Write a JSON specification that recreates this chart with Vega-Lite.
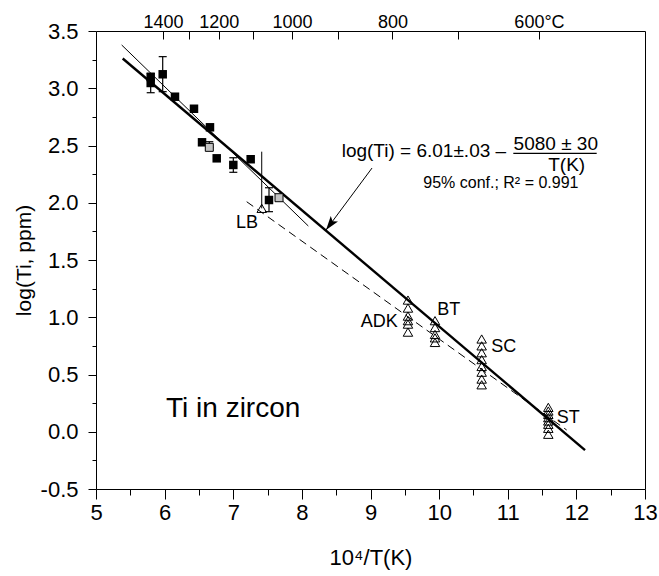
{
  "$schema": "https://vega.github.io/schema/vega-lite/v6.json",
  "width": 549,
  "height": 458,
  "autosize": {"type": "none"},
  "padding": {"left": 96, "top": 31, "right": 14, "bottom": 87},
  "background": "white",
  "config": {
    "view": {"stroke": "black", "strokeWidth": 1},
    "font": "Liberation Sans",
    "axis": {
      "labelFont": "Liberation Sans",
      "titleFont": "Liberation Sans",
      "labelColor": "black",
      "titleColor": "black",
      "tickColor": "black",
      "tickWidth": 1,
      "domain": false,
      "grid": false,
      "titleFontWeight": "normal",
      "labelFlush": false,
      "labelOverlap": false
    },
    "text": {"font": "Liberation Sans", "color": "black"}
  },
  "resolve": {"axis": {"x": "independent", "y": "independent"}},
  "datasets": {
    "fit": [{"x": 5.389, "y": 3.26}, {"x": 12.126, "y": -0.16}],
    "thin": [{"x": 5.374, "y": 3.378}, {"x": 8.094, "y": 1.797}],
    "dash": [{"x": 7.196, "y": 2.009}, {"x": 11.859, "y": 0.015}],
    "arrow": [{"x": 9.022, "y": 2.303, "x2": 8.352, "y2": 1.762}],
    "head": [{"x": 8.352, "y": 1.762}],
    "errs": [
      {"x": 5.797, "lo": 2.961, "hi": 3.131},
      {"x": 5.972, "lo": 2.970, "hi": 3.276},
      {"x": 7.001, "lo": 2.266, "hi": 2.393},
      {"x": 7.521, "lo": 1.922, "hi": 2.131},
      {"x": 6.651, "lo": 2.484, "hi": 2.533}
    ],
    "lb": [{"x": 7.415, "lo": 1.951, "hi": 2.446}],
    "black": [
      {"x": 5.797, "y": 3.098},
      {"x": 5.797, "y": 3.046},
      {"x": 5.972, "y": 3.122},
      {"x": 6.151, "y": 2.926},
      {"x": 6.428, "y": 2.821},
      {"x": 6.661, "y": 2.659},
      {"x": 6.545, "y": 2.528},
      {"x": 6.759, "y": 2.388},
      {"x": 7.001, "y": 2.330},
      {"x": 7.254, "y": 2.380},
      {"x": 7.521, "y": 2.024}
    ],
    "gray": [
      {"x": 6.651, "y": 2.484},
      {"x": 7.667, "y": 2.044}
    ],
    "tri": [
      {"x": 7.415, "y": 1.951},
      {"x": 9.546, "y": 1.15}, {"x": 9.546, "y": 1.08}, {"x": 9.546, "y": 1.01}, {"x": 9.546, "y": 0.97}, {"x": 9.546, "y": 0.94}, {"x": 9.546, "y": 0.87},
      {"x": 9.94, "y": 0.97}, {"x": 9.94, "y": 0.91}, {"x": 9.94, "y": 0.85}, {"x": 9.94, "y": 0.82}, {"x": 9.94, "y": 0.78},
      {"x": 10.62, "y": 0.81}, {"x": 10.62, "y": 0.75}, {"x": 10.62, "y": 0.69}, {"x": 10.62, "y": 0.63}, {"x": 10.62, "y": 0.57}, {"x": 10.62, "y": 0.52}, {"x": 10.62, "y": 0.46}, {"x": 10.62, "y": 0.41},
      {"x": 11.591, "y": 0.213}, {"x": 11.591, "y": 0.181}, {"x": 11.591, "y": 0.152}, {"x": 11.591, "y": 0.123}, {"x": 11.591, "y": 0.094}, {"x": 11.591, "y": 0.065}, {"x": 11.591, "y": 0.03}, {"x": 11.591, "y": -0.022}
    ],
    "ptlabels": [
      {"x": 7.2, "y": 1.823, "label": "LB"},
      {"x": 9.127, "y": 0.961, "label": "ADK"},
      {"x": 10.141, "y": 1.063, "label": "BT"},
      {"x": 10.942, "y": 0.736, "label": "SC"},
      {"x": 11.882, "y": 0.12, "label": "ST"}
    ],
    "eqleft": [{"x": 8.58, "y": 2.4, "label": "log(Ti) = 6.01±.03 –"}],
    "eqfrac": [
      {"x": 11.7, "y": 2.465, "label": "5080 ± 30"},
      {"x": 11.859, "y": 2.275, "label": "T(K)"}
    ],
    "bar": [{"x": 11.081, "x2": 12.296, "y": 2.432}],
    "conf": [{"x": 9.769, "y": 2.13, "label": "95% conf.;  R² = 0.991"}],
    "title": [{"x": 6.02, "y": 0.131, "label": "Ti in zircon"}]
  },
  "layer": [
    {
      "data": {"name": "fit"},
      "mark": {"type": "line", "color": "black", "strokeWidth": 2.4},
      "encoding": {
        "x": {"field": "x", "type": "quantitative", "scale": {"domain": [5, 13], "nice": false, "zero": false},
          "axis": {"orient": "bottom", "values": [5, 6, 7, 8, 9, 10, 11, 12, 13], "format": "d", "title": "10⁴/T(K)", "tickSize": 10, "labelPadding": 3, "titlePadding": 24, "labelFontSize": 22, "titleFontSize": 22}},
        "y": {"field": "y", "type": "quantitative", "scale": {"domain": [-0.5, 3.5], "nice": false, "zero": false},
          "axis": {"orient": "left", "values": [-0.5, 0, 0.5, 1, 1.5, 2, 2.5, 3, 3.5], "labelExpr": "replace(format(datum.value, '.1f'), '\u2212', '-')", "tickSize": 8, "labelPadding": 10, "title": "log(Ti, ppm)", "titlePadding": 6, "labelFontSize": 22, "titleFontSize": 21}}
      }
    },
    {
      "data": {"name": "dash"},
      "mark": {"type": "line", "color": "black", "strokeWidth": 1, "strokeDash": [8, 5]},
      "encoding": {
        "x": {"field": "x", "type": "quantitative", "scale": {"domain": [5, 13], "nice": false, "zero": false},
          "axis": {"orient": "top", "values": [5.977, 6.357, 6.789, 7.288, 7.855, 8.525, 9.319, 10.276, 11.455], "labelExpr": "datum.value < 6.1 ? '1400' : datum.value < 6.5 ? '' : datum.value < 7 ? '1200' : datum.value < 7.5 ? '' : datum.value < 8 ? '1000' : datum.value < 9 ? '' : datum.value < 9.5 ? '800' : datum.value < 11 ? '' : '\u2003600°C'", "tickSize": -8, "labelPadding": 8, "title": null, "labelFontSize": 18}},
        "y": {"field": "y", "type": "quantitative", "scale": {"domain": [-0.5, 3.5], "nice": false, "zero": false},
          "axis": {"orient": "left", "values": [-0.25, 0.25, 0.75, 1.25, 1.75, 2.25, 2.75, 3.25], "tickSize": 4, "labels": false, "title": null}}
      }
    },
    {
      "data": {"name": "thin"},
      "mark": {"type": "line", "color": "black", "strokeWidth": 1},
      "encoding": {
        "x": {"field": "x", "type": "quantitative", "scale": {"domain": [5, 13], "nice": false, "zero": false},
          "axis": {"orient": "bottom", "values": [5.5, 6.5, 7.5, 8.5, 9.5, 10.5, 11.5, 12.5], "tickSize": 6, "labels": false, "title": null}},
        "y": {"field": "y", "type": "quantitative", "scale": {"domain": [-0.5, 3.5], "nice": false, "zero": false}, "axis": null}
      }
    },
    {
      "data": {"name": "arrow"},
      "mark": {"type": "rule", "color": "black", "strokeWidth": 1},
      "encoding": {
        "x": {"field": "x", "type": "quantitative", "scale": {"domain": [5, 13]}, "axis": null},
        "y": {"field": "y", "type": "quantitative", "scale": {"domain": [-0.5, 3.5]}, "axis": null},
        "x2": {"field": "x2"},
        "y2": {"field": "y2"}
      }
    },
    {
      "data": {"name": "head"},
      "mark": {"type": "point", "shape": "M0,0L-0.45,1.4L0,1.1L0.45,1.4Z", "size": 400, "angle": 216.6, "filled": true, "color": "black", "opacity": 1},
      "encoding": {
        "x": {"field": "x", "type": "quantitative", "scale": {"domain": [5, 13]}, "axis": null},
        "y": {"field": "y", "type": "quantitative", "scale": {"domain": [-0.5, 3.5]}, "axis": null}
      }
    },
    {
      "data": {"name": "lb"},
      "mark": {"type": "rule", "color": "black", "strokeWidth": 1},
      "encoding": {
        "x": {"field": "x", "type": "quantitative", "scale": {"domain": [5, 13]}, "axis": null},
        "y": {"field": "lo", "type": "quantitative", "scale": {"domain": [-0.5, 3.5]}, "axis": null},
        "y2": {"field": "hi"}
      }
    },
    {
      "data": {"name": "errs"},
      "mark": {"type": "rule", "color": "black", "strokeWidth": 1.2},
      "encoding": {
        "x": {"field": "x", "type": "quantitative", "scale": {"domain": [5, 13]}, "axis": null},
        "y": {"field": "lo", "type": "quantitative", "scale": {"domain": [-0.5, 3.5]}, "axis": null},
        "y2": {"field": "hi"}
      }
    },
    {
      "data": {"name": "errs"},
      "mark": {"type": "tick", "orient": "horizontal", "size": 8, "thickness": 1.2, "color": "black", "opacity": 1},
      "encoding": {
        "x": {"field": "x", "type": "quantitative", "scale": {"domain": [5, 13]}, "axis": null},
        "y": {"field": "lo", "type": "quantitative", "scale": {"domain": [-0.5, 3.5]}, "axis": null}
      }
    },
    {
      "data": {"name": "errs"},
      "mark": {"type": "tick", "orient": "horizontal", "size": 8, "thickness": 1.2, "color": "black", "opacity": 1},
      "encoding": {
        "x": {"field": "x", "type": "quantitative", "scale": {"domain": [5, 13]}, "axis": null},
        "y": {"field": "hi", "type": "quantitative", "scale": {"domain": [-0.5, 3.5]}, "axis": null}
      }
    },
    {
      "data": {"name": "black"},
      "mark": {"type": "point", "shape": "square", "size": 72, "filled": true, "color": "black", "opacity": 1},
      "encoding": {
        "x": {"field": "x", "type": "quantitative", "scale": {"domain": [5, 13]}, "axis": null},
        "y": {"field": "y", "type": "quantitative", "scale": {"domain": [-0.5, 3.5]}, "axis": null}
      }
    },
    {
      "data": {"name": "gray"},
      "mark": {"type": "point", "shape": "square", "size": 64, "filled": true, "fill": "#c4c4c4", "stroke": "black", "strokeWidth": 1, "opacity": 1},
      "encoding": {
        "x": {"field": "x", "type": "quantitative", "scale": {"domain": [5, 13]}, "axis": null},
        "y": {"field": "y", "type": "quantitative", "scale": {"domain": [-0.5, 3.5]}, "axis": null}
      }
    },
    {
      "data": {"name": "tri"},
      "mark": {"type": "point", "shape": "triangle-up", "size": 90, "filled": false, "stroke": "black", "strokeWidth": 1, "opacity": 1},
      "encoding": {
        "x": {"field": "x", "type": "quantitative", "scale": {"domain": [5, 13]}, "axis": null},
        "y": {"field": "y", "type": "quantitative", "scale": {"domain": [-0.5, 3.5]}, "axis": null}
      }
    },
    {
      "data": {"name": "ptlabels"},
      "mark": {"type": "text", "fontSize": 18, "align": "center", "baseline": "middle"},
      "encoding": {
        "x": {"field": "x", "type": "quantitative", "scale": {"domain": [5, 13]}, "axis": null},
        "y": {"field": "y", "type": "quantitative", "scale": {"domain": [-0.5, 3.5]}, "axis": null},
        "text": {"field": "label"}
      }
    },
    {
      "data": {"name": "eqleft"},
      "mark": {"type": "text", "fontSize": 19, "align": "left", "baseline": "alphabetic"},
      "encoding": {
        "x": {"field": "x", "type": "quantitative", "scale": {"domain": [5, 13]}, "axis": null},
        "y": {"field": "y", "type": "quantitative", "scale": {"domain": [-0.5, 3.5]}, "axis": null},
        "text": {"field": "label"}
      }
    },
    {
      "data": {"name": "eqfrac"},
      "mark": {"type": "text", "fontSize": 19, "align": "center", "baseline": "alphabetic"},
      "encoding": {
        "x": {"field": "x", "type": "quantitative", "scale": {"domain": [5, 13]}, "axis": null},
        "y": {"field": "y", "type": "quantitative", "scale": {"domain": [-0.5, 3.5]}, "axis": null},
        "text": {"field": "label"}
      }
    },
    {
      "data": {"name": "bar"},
      "mark": {"type": "rule", "color": "black", "strokeWidth": 1.2},
      "encoding": {
        "x": {"field": "x", "type": "quantitative", "scale": {"domain": [5, 13]}, "axis": null},
        "x2": {"field": "x2"},
        "y": {"field": "y", "type": "quantitative", "scale": {"domain": [-0.5, 3.5]}, "axis": null}
      }
    },
    {
      "data": {"name": "conf"},
      "mark": {"type": "text", "fontSize": 16, "align": "left", "baseline": "alphabetic"},
      "encoding": {
        "x": {"field": "x", "type": "quantitative", "scale": {"domain": [5, 13]}, "axis": null},
        "y": {"field": "y", "type": "quantitative", "scale": {"domain": [-0.5, 3.5]}, "axis": null},
        "text": {"field": "label"}
      }
    },
    {
      "data": {"name": "title"},
      "mark": {"type": "text", "fontSize": 28, "align": "left", "baseline": "alphabetic"},
      "encoding": {
        "x": {"field": "x", "type": "quantitative", "scale": {"domain": [5, 13]}, "axis": null},
        "y": {"field": "y", "type": "quantitative", "scale": {"domain": [-0.5, 3.5]}, "axis": null},
        "text": {"field": "label"}
      }
    }
  ]
}
